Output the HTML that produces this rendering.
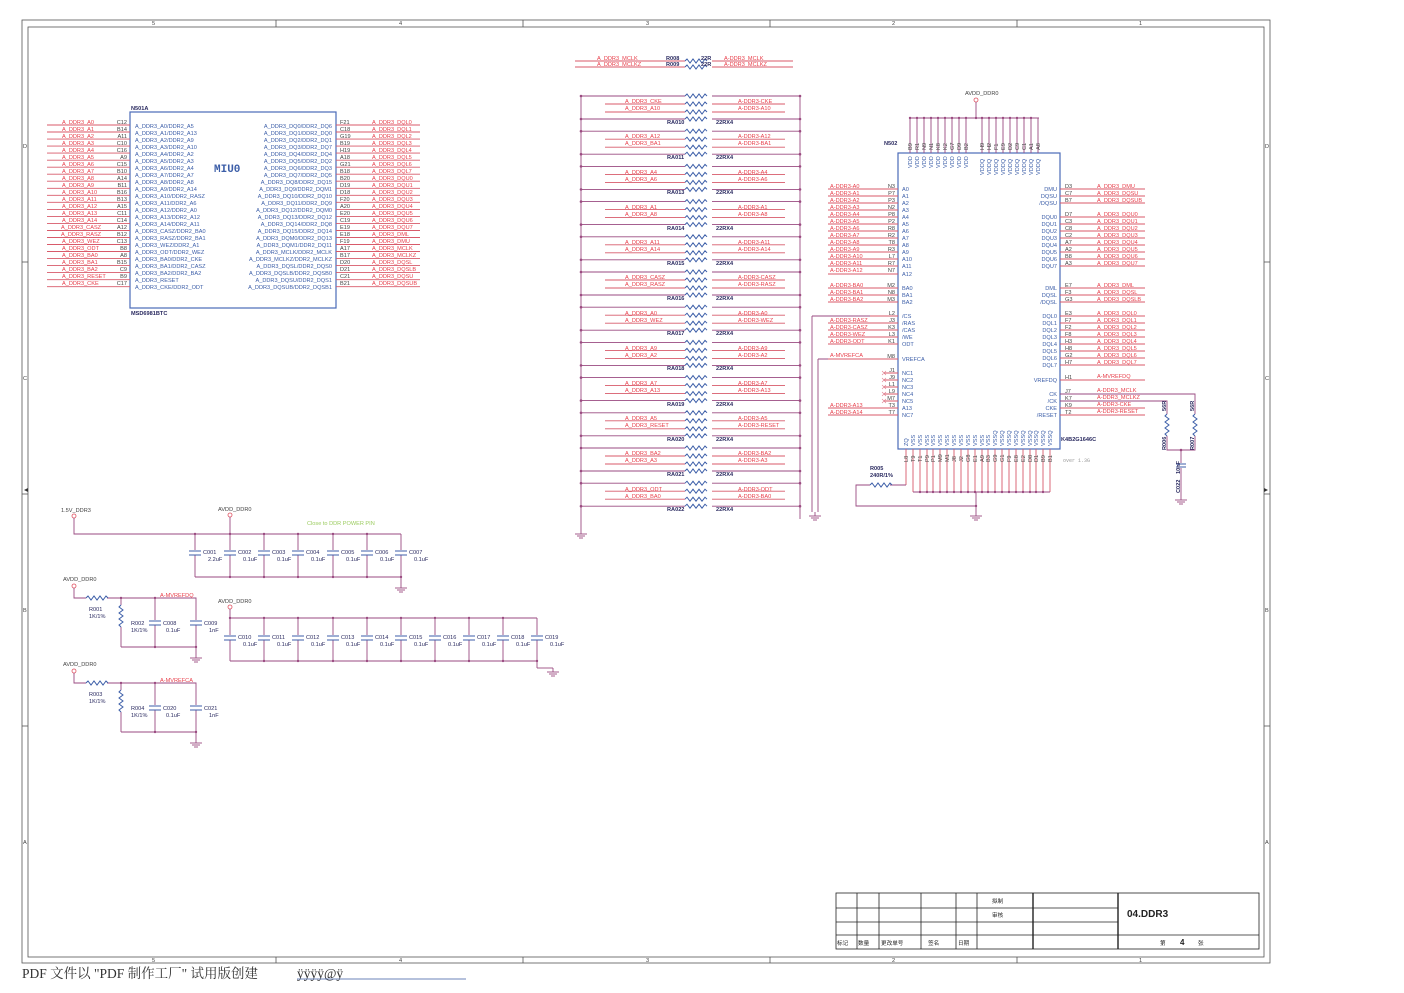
<!DOCTYPE html>
<html><head><meta charset="utf-8"><style>
html,body{margin:0;padding:0;background:#fff;}
svg{display:block;}
text{font-family:"Liberation Sans",sans-serif;font-size:5.6px;}
.r{fill:#e8404c;}
.b{fill:#3c5ea8;}
.k{fill:#2a2a60;}
.g{fill:#444;}
.w{stroke:#9a4a80;stroke-width:0.9;fill:none;}
.p{stroke:#d85a6a;stroke-width:0.9;fill:none;}
.c{stroke:#3c5ea8;stroke-width:1;fill:none;}
.f{stroke:#555;stroke-width:0.8;fill:none;}
.d{fill:#9a4a80;}
.bd{font-weight:bold;}
</style></head><body>
<svg width="1404" height="993" viewBox="0 0 1404 993" xmlns="http://www.w3.org/2000/svg">
<defs>
<path id="zz" d="M0 0 l2 -2 l3 4 l3 -4 l3 4 l3 -4 l3 4 l3 -4 l2 2" class="c"/>
<path id="zv" d="M0 0 l-2 2 l4 3 l-4 3 l4 3 l-4 3 l4 3 l-4 3 l2 2" class="c"/>
<g id="gnd"><line x1="0" y1="0" x2="0" y2="4" class="w"/><line x1="-6" y1="4" x2="6" y2="4" class="w"/><line x1="-4" y1="6" x2="4" y2="6" class="w"/><line x1="-2" y1="8" x2="2" y2="8" class="w"/></g>
<g id="cap"><line x1="-6" y1="0" x2="6" y2="0" class="c" stroke-width="1.4"/><line x1="-6" y1="4" x2="6" y2="4" class="c" stroke-width="1.4"/></g>
</defs>

<!-- frames -->
<rect x="22" y="20" width="1248" height="943" class="f"/>
<rect x="28" y="27" width="1236" height="930" class="f"/>
<g class="f"><line x1="276" y1="20" x2="276" y2="27"/><line x1="523" y1="20" x2="523" y2="27"/><line x1="770" y1="20" x2="770" y2="27"/><line x1="1017" y1="20" x2="1017" y2="27"/>
<line x1="276" y1="957" x2="276" y2="963"/><line x1="523" y1="957" x2="523" y2="963"/><line x1="770" y1="957" x2="770" y2="963"/><line x1="1017" y1="957" x2="1017" y2="963"/>
<line x1="22" y1="262" x2="28" y2="262"/><line x1="22" y1="494" x2="28" y2="494"/><line x1="22" y1="726" x2="28" y2="726"/>
<line x1="1264" y1="262" x2="1270" y2="262"/><line x1="1264" y1="494" x2="1270" y2="494"/><line x1="1264" y1="726" x2="1270" y2="726"/></g>
<g class="g" style="font-size:5px"><text x="152" y="25">5</text><text x="399" y="25">4</text><text x="646" y="25">3</text><text x="892" y="25">2</text><text x="1139" y="25">1</text>
<text x="152" y="962">5</text><text x="399" y="962">4</text><text x="646" y="962">3</text><text x="892" y="962">2</text><text x="1139" y="962">1</text>
<text x="23" y="148">D</text><text x="23" y="380">C</text><text x="23" y="612">B</text><text x="23" y="844">A</text>
<text x="1265" y="148">D</text><text x="1265" y="380">C</text><text x="1265" y="612">B</text><text x="1265" y="844">A</text></g>
<path d="M24 490 l4 -2 v4z M1268 490 l-4 -2 v4z" fill="#333"/>

<!-- LEFT CHIP N501A -->
<rect x="130" y="112" width="206" height="196" stroke="#4a6ab8" stroke-width="1.2" fill="none"/>
<text x="131" y="110" class="k bd">N501A</text>
<text x="131" y="315" class="k bd">MSD6981BTC</text>
<text x="214" y="172" class="b bd" style="font-size:11px;font-family:'Liberation Mono',monospace">MIU0</text>
<path class="p" d="M47 125H130M47 132H130M47 139.1H130M47 146.1H130M47 153.1H130M47 160.2H130M47 167.2H130M47 174.2H130M47 181.2H130M47 188.3H130M47 195.3H130M47 202.3H130M47 209.4H130M47 216.4H130M47 223.4H130M47 230.5H130M47 237.5H130M47 244.5H130M47 251.5H130M47 258.6H130M47 265.6H130M47 272.6H130M47 279.7H130M47 286.7H130
M336 125H420M336 132H420M336 139.1H420M336 146.1H420M336 153.1H420M336 160.2H420M336 167.2H420M336 174.2H420M336 181.2H420M336 188.3H420M336 195.3H420M336 202.3H420M336 209.4H420M336 216.4H420M336 223.4H420M336 230.5H420M336 237.5H420M336 244.5H420M336 251.5H420M336 258.6H420M336 265.6H420M336 272.6H420M336 279.7H420M336 286.7H420"/>
<text class="r"><tspan x="62" y="124">A_DDR3_A0</tspan><tspan x="62" y="131">A_DDR3_A1</tspan><tspan x="62" y="138">A_DDR3_A2</tspan><tspan x="62" y="145">A_DDR3_A3</tspan><tspan x="62" y="152">A_DDR3_A4</tspan><tspan x="62" y="159">A_DDR3_A5</tspan><tspan x="62" y="166">A_DDR3_A6</tspan><tspan x="62" y="173">A_DDR3_A7</tspan><tspan x="62" y="180">A_DDR3_A8</tspan><tspan x="62" y="187">A_DDR3_A9</tspan><tspan x="62" y="194">A_DDR3_A10</tspan><tspan x="62" y="201">A_DDR3_A11</tspan><tspan x="62" y="208">A_DDR3_A12</tspan><tspan x="62" y="215">A_DDR3_A13</tspan><tspan x="62" y="222">A_DDR3_A14</tspan><tspan x="61" y="229">A_DDR3_CASZ</tspan><tspan x="61" y="236">A_DDR3_RASZ</tspan><tspan x="62" y="243">A_DDR3_WEZ</tspan><tspan x="62" y="250">A_DDR3_ODT</tspan><tspan x="62" y="257">A_DDR3_BA0</tspan><tspan x="62" y="264">A_DDR3_BA1</tspan><tspan x="62" y="271">A_DDR3_BA2</tspan><tspan x="62" y="278">A_DDR3_RESET</tspan><tspan x="62" y="285">A_DDR3_CKE</tspan></text>
<text class="g" text-anchor="end"><tspan x="127" y="124">C12</tspan><tspan x="127" y="131">B14</tspan><tspan x="127" y="138">A11</tspan><tspan x="127" y="145">C10</tspan><tspan x="127" y="152">C16</tspan><tspan x="127" y="159">A9</tspan><tspan x="127" y="166">C15</tspan><tspan x="127" y="173">B10</tspan><tspan x="127" y="180">A14</tspan><tspan x="127" y="187">B11</tspan><tspan x="127" y="194">B16</tspan><tspan x="127" y="201">B13</tspan><tspan x="127" y="208">A15</tspan><tspan x="127" y="215">C11</tspan><tspan x="127" y="222">C14</tspan><tspan x="127" y="229">A12</tspan><tspan x="127" y="236">B12</tspan><tspan x="127" y="243">C13</tspan><tspan x="127" y="250">B8</tspan><tspan x="127" y="257">A8</tspan><tspan x="127" y="264">B15</tspan><tspan x="127" y="271">C9</tspan><tspan x="127" y="278">B9</tspan><tspan x="127" y="285">C17</tspan></text>
<text class="b"><tspan x="135" y="128">A_DDR3_A0/DDR2_A5</tspan><tspan x="135" y="135">A_DDR3_A1/DDR2_A13</tspan><tspan x="135" y="142">A_DDR3_A2/DDR2_A9</tspan><tspan x="135" y="149">A_DDR3_A3/DDR2_A10</tspan><tspan x="135" y="156">A_DDR3_A4/DDR2_A2</tspan><tspan x="135" y="163">A_DDR3_A5/DDR2_A3</tspan><tspan x="135" y="170">A_DDR3_A6/DDR2_A4</tspan><tspan x="135" y="177">A_DDR3_A7/DDR2_A7</tspan><tspan x="135" y="184">A_DDR3_A8/DDR2_A8</tspan><tspan x="135" y="191">A_DDR3_A9/DDR2_A14</tspan><tspan x="135" y="198">A_DDR3_A10/DDR2_RASZ</tspan><tspan x="135" y="205">A_DDR3_A11/DDR2_A6</tspan><tspan x="135" y="212">A_DDR3_A12/DDR2_A0</tspan><tspan x="135" y="219">A_DDR3_A13/DDR2_A12</tspan><tspan x="135" y="226">A_DDR3_A14/DDR2_A11</tspan><tspan x="135" y="233">A_DDR3_CASZ/DDR2_BA0</tspan><tspan x="135" y="240">A_DDR3_RASZ/DDR2_BA1</tspan><tspan x="135" y="247">A_DDR3_WEZ/DDR2_A1</tspan><tspan x="135" y="254">A_DDR3_ODT/DDR2_WEZ</tspan><tspan x="135" y="261">A_DDR3_BA0/DDR2_CKE</tspan><tspan x="135" y="268">A_DDR3_BA1/DDR2_CASZ</tspan><tspan x="135" y="275">A_DDR3_BA2/DDR2_BA2</tspan><tspan x="135" y="282">A_DDR3_RESET</tspan><tspan x="135" y="289">A_DDR3_CKE/DDR2_ODT</tspan></text>
<text class="b" text-anchor="end"><tspan x="332" y="128">A_DDR3_DQ0/DDR2_DQ6</tspan><tspan x="332" y="135">A_DDR3_DQ1/DDR2_DQ0</tspan><tspan x="332" y="142">A_DDR3_DQ2/DDR2_DQ1</tspan><tspan x="332" y="149">A_DDR3_DQ3/DDR2_DQ7</tspan><tspan x="332" y="156">A_DDR3_DQ4/DDR2_DQ4</tspan><tspan x="332" y="163">A_DDR3_DQ5/DDR2_DQ2</tspan><tspan x="332" y="170">A_DDR3_DQ6/DDR2_DQ3</tspan><tspan x="332" y="177">A_DDR3_DQ7/DDR2_DQ5</tspan><tspan x="332" y="184">A_DDR3_DQ8/DDR2_DQ15</tspan><tspan x="332" y="191">A_DDR3_DQ9/DDR2_DQM1</tspan><tspan x="332" y="198">A_DDR3_DQ10/DDR2_DQ10</tspan><tspan x="332" y="205">A_DDR3_DQ11/DDR2_DQ9</tspan><tspan x="332" y="212">A_DDR3_DQ12/DDR2_DQM0</tspan><tspan x="332" y="219">A_DDR3_DQ13/DDR2_DQ12</tspan><tspan x="332" y="226">A_DDR3_DQ14/DDR2_DQ8</tspan><tspan x="332" y="233">A_DDR3_DQ15/DDR2_DQ14</tspan><tspan x="332" y="240">A_DDR3_DQM0/DDR2_DQ13</tspan><tspan x="332" y="247">A_DDR3_DQM1/DDR2_DQ11</tspan><tspan x="332" y="254">A_DDR3_MCLK/DDR2_MCLK</tspan><tspan x="332" y="261">A_DDR3_MCLKZ/DDR2_MCLKZ</tspan><tspan x="332" y="268">A_DDR3_DQSL/DDR2_DQS0</tspan><tspan x="332" y="275">A_DDR3_DQSLB/DDR2_DQSB0</tspan><tspan x="332" y="282">A_DDR3_DQSU/DDR2_DQS1</tspan><tspan x="332" y="289">A_DDR3_DQSUB/DDR2_DQSB1</tspan></text>
<text class="g"><tspan x="340" y="124">F21</tspan><tspan x="340" y="131">C18</tspan><tspan x="340" y="138">G19</tspan><tspan x="340" y="145">B19</tspan><tspan x="340" y="152">H19</tspan><tspan x="340" y="159">A18</tspan><tspan x="340" y="166">G21</tspan><tspan x="340" y="173">B18</tspan><tspan x="340" y="180">B20</tspan><tspan x="340" y="187">D19</tspan><tspan x="340" y="194">D18</tspan><tspan x="340" y="201">F20</tspan><tspan x="340" y="208">A20</tspan><tspan x="340" y="215">E20</tspan><tspan x="340" y="222">C19</tspan><tspan x="340" y="229">E19</tspan><tspan x="340" y="236">E18</tspan><tspan x="340" y="243">F19</tspan><tspan x="340" y="250">A17</tspan><tspan x="340" y="257">B17</tspan><tspan x="340" y="264">D20</tspan><tspan x="340" y="271">D21</tspan><tspan x="340" y="278">C21</tspan><tspan x="340" y="285">B21</tspan></text>
<text class="r"><tspan x="372" y="124">A_DDR3_DQL0</tspan><tspan x="372" y="131">A_DDR3_DQL1</tspan><tspan x="372" y="138">A_DDR3_DQL2</tspan><tspan x="372" y="145">A_DDR3_DQL3</tspan><tspan x="372" y="152">A_DDR3_DQL4</tspan><tspan x="372" y="159">A_DDR3_DQL5</tspan><tspan x="372" y="166">A_DDR3_DQL6</tspan><tspan x="372" y="173">A_DDR3_DQL7</tspan><tspan x="372" y="180">A_DDR3_DQU0</tspan><tspan x="372" y="187">A_DDR3_DQU1</tspan><tspan x="372" y="194">A_DDR3_DQU2</tspan><tspan x="372" y="201">A_DDR3_DQU3</tspan><tspan x="372" y="208">A_DDR3_DQU4</tspan><tspan x="372" y="215">A_DDR3_DQU5</tspan><tspan x="372" y="222">A_DDR3_DQU6</tspan><tspan x="372" y="229">A_DDR3_DQU7</tspan><tspan x="372" y="236">A_DDR3_DML</tspan><tspan x="372" y="243">A_DDR3_DMU</tspan><tspan x="372" y="250">A_DDR3_MCLK</tspan><tspan x="372" y="257">A_DDR3_MCLKZ</tspan><tspan x="372" y="264">A_DDR3_DQSL</tspan><tspan x="372" y="271">A_DDR3_DQSLB</tspan><tspan x="372" y="278">A_DDR3_DQSU</tspan><tspan x="372" y="285">A_DDR3_DQSUB</tspan></text>

<!-- R008/R009 -->
<path class="p" d="M575 61H685M712 61H793M575 67H685M712 67H793"/>
<use href="#zz" x="685" y="61"/><use href="#zz" x="685" y="67"/>
<text class="r"><tspan x="597" y="60">A_DDR3_MCLK</tspan><tspan x="597" y="66">A_DDR3_MCLKZ</tspan><tspan x="724" y="60">A-DDR3_MCLK</tspan><tspan x="724" y="66">A-DDR3_MCLKZ</tspan></text>
<text class="k bd"><tspan x="666" y="60">R008</tspan><tspan x="666" y="66">R009</tspan><tspan x="701" y="60">22R</tspan><tspan x="701" y="66">22R</tspan></text>

<!-- RESISTOR ARRAYS -->
<line x1="581" y1="96" x2="581" y2="530" class="w"/>
<line x1="800" y1="96" x2="800" y2="519" class="w"/>
<use href="#gnd" x="581" y="530"/>
<g id="ra">
<path class="w" d="M581 96H685M712 96H800M581 119H685M712 119H800"/>
<path class="p" d="M605 104H685M712 104H785M605 112H685M712 112H785"/>
<use href="#zz" x="685" y="96"/><use href="#zz" x="685" y="104"/><use href="#zz" x="685" y="112"/><use href="#zz" x="685" y="119"/>
<circle cx="581" cy="96" r="1.3" class="d"/><circle cx="800" cy="96" r="1.3" class="d"/><circle cx="581" cy="119" r="1.3" class="d"/><circle cx="800" cy="119" r="1.3" class="d"/>
</g>
<use href="#ra" y="35.2"/><use href="#ra" y="70.4"/><use href="#ra" y="105.6"/><use href="#ra" y="140.8"/><use href="#ra" y="176"/><use href="#ra" y="211.2"/><use href="#ra" y="246.4"/><use href="#ra" y="281.6"/><use href="#ra" y="316.8"/><use href="#ra" y="352"/><use href="#ra" y="387.2"/>
<text class="r"><tspan x="625" y="103">A_DDR3_CKE</tspan><tspan x="625" y="110">A_DDR3_A10</tspan><tspan x="625" y="138">A_DDR3_A12</tspan><tspan x="625" y="145">A_DDR3_BA1</tspan><tspan x="625" y="174">A_DDR3_A4</tspan><tspan x="625" y="181">A_DDR3_A6</tspan><tspan x="625" y="209">A_DDR3_A1</tspan><tspan x="625" y="216">A_DDR3_A8</tspan><tspan x="625" y="244">A_DDR3_A11</tspan><tspan x="625" y="251">A_DDR3_A14</tspan><tspan x="625" y="279">A_DDR3_CASZ</tspan><tspan x="625" y="286">A_DDR3_RASZ</tspan><tspan x="625" y="315">A_DDR3_A0</tspan><tspan x="625" y="322">A_DDR3_WEZ</tspan><tspan x="625" y="350">A_DDR3_A9</tspan><tspan x="625" y="357">A_DDR3_A2</tspan><tspan x="625" y="385">A_DDR3_A7</tspan><tspan x="625" y="392">A_DDR3_A13</tspan><tspan x="625" y="420">A_DDR3_A5</tspan><tspan x="625" y="427">A_DDR3_RESET</tspan><tspan x="625" y="455">A_DDR3_BA2</tspan><tspan x="625" y="462">A_DDR3_A3</tspan><tspan x="625" y="491">A_DDR3_ODT</tspan><tspan x="625" y="498">A_DDR3_BA0</tspan></text>
<text class="r"><tspan x="738" y="103">A-DDR3-CKE</tspan><tspan x="738" y="110">A-DDR3-A10</tspan><tspan x="738" y="138">A-DDR3-A12</tspan><tspan x="738" y="145">A-DDR3-BA1</tspan><tspan x="738" y="174">A-DDR3-A4</tspan><tspan x="738" y="181">A-DDR3-A6</tspan><tspan x="738" y="209">A-DDR3-A1</tspan><tspan x="738" y="216">A-DDR3-A8</tspan><tspan x="738" y="244">A-DDR3-A11</tspan><tspan x="738" y="251">A-DDR3-A14</tspan><tspan x="738" y="279">A-DDR3-CASZ</tspan><tspan x="738" y="286">A-DDR3-RASZ</tspan><tspan x="738" y="315">A-DDR3-A0</tspan><tspan x="738" y="322">A-DDR3-WEZ</tspan><tspan x="738" y="350">A-DDR3-A9</tspan><tspan x="738" y="357">A-DDR3-A2</tspan><tspan x="738" y="385">A-DDR3-A7</tspan><tspan x="738" y="392">A-DDR3-A13</tspan><tspan x="738" y="420">A-DDR3-A5</tspan><tspan x="738" y="427">A-DDR3-RESET</tspan><tspan x="738" y="455">A-DDR3-BA2</tspan><tspan x="738" y="462">A-DDR3-A3</tspan><tspan x="738" y="491">A-DDR3-ODT</tspan><tspan x="738" y="498">A-DDR3-BA0</tspan></text>
<text class="k bd"><tspan x="667" y="124">RA010</tspan><tspan x="667" y="159">RA011</tspan><tspan x="667" y="194">RA013</tspan><tspan x="667" y="230">RA014</tspan><tspan x="667" y="265">RA015</tspan><tspan x="667" y="300">RA016</tspan><tspan x="667" y="335">RA017</tspan><tspan x="667" y="370">RA018</tspan><tspan x="667" y="406">RA019</tspan><tspan x="667" y="441">RA020</tspan><tspan x="667" y="476">RA021</tspan><tspan x="667" y="511">RA022</tspan>
<tspan x="716" y="124">22RX4</tspan><tspan x="716" y="159">22RX4</tspan><tspan x="716" y="194">22RX4</tspan><tspan x="716" y="230">22RX4</tspan><tspan x="716" y="265">22RX4</tspan><tspan x="716" y="300">22RX4</tspan><tspan x="716" y="335">22RX4</tspan><tspan x="716" y="370">22RX4</tspan><tspan x="716" y="406">22RX4</tspan><tspan x="716" y="441">22RX4</tspan><tspan x="716" y="476">22RX4</tspan><tspan x="716" y="511">22RX4</tspan></text>
<path class="w" d="M812 316H898M812 316V512M818 359V512M818 359H828"/>
<use href="#gnd" x="815" y="512"/>

<!-- RIGHT CHIP N502 -->
<rect x="898" y="153" width="162" height="296" stroke="#4a6ab8" stroke-width="1.2" fill="none"/>
<text x="884" y="145" class="k bd">N502</text>
<text x="965" y="95" class="g">AVDD_DDR0</text>
<circle cx="976" cy="100" r="2" fill="none" stroke="#e05060" stroke-width="0.8"/>
<path class="w" d="M976 102V118M910 118H1039M910 118V153M917 118V153M924 118V153M931 118V153M938 118V153M945 118V153M952 118V153M959 118V153M966 118V153M982 118V153M989 118V153M996 118V153M1003 118V153M1010 118V153M1017 118V153M1024 118V153M1031 118V153M1038 118V153"/>
<g class="d"><circle cx="910" cy="118" r="1.2"/><circle cx="917" cy="118" r="1.2"/><circle cx="924" cy="118" r="1.2"/><circle cx="931" cy="118" r="1.2"/><circle cx="938" cy="118" r="1.2"/><circle cx="945" cy="118" r="1.2"/><circle cx="952" cy="118" r="1.2"/><circle cx="959" cy="118" r="1.2"/><circle cx="966" cy="118" r="1.2"/><circle cx="976" cy="118" r="1.2"/><circle cx="982" cy="118" r="1.2"/><circle cx="989" cy="118" r="1.2"/><circle cx="996" cy="118" r="1.2"/><circle cx="1003" cy="118" r="1.2"/><circle cx="1010" cy="118" r="1.2"/><circle cx="1017" cy="118" r="1.2"/><circle cx="1024" cy="118" r="1.2"/><circle cx="1031" cy="118" r="1.2"/></g>
<g class="g" style="font-size:5.2px">
<text transform="translate(912,150) rotate(-90)">B9</text><text transform="translate(919,150) rotate(-90)">R1</text><text transform="translate(926,150) rotate(-90)">N9</text><text transform="translate(933,150) rotate(-90)">N1</text><text transform="translate(940,150) rotate(-90)">K8</text><text transform="translate(947,150) rotate(-90)">K2</text><text transform="translate(954,150) rotate(-90)">G7</text><text transform="translate(961,150) rotate(-90)">D9</text><text transform="translate(968,150) rotate(-90)">B2</text>
<text transform="translate(984,150) rotate(-90)">H9</text><text transform="translate(991,150) rotate(-90)">H2</text><text transform="translate(998,150) rotate(-90)">F1</text><text transform="translate(1005,150) rotate(-90)">E9</text><text transform="translate(1012,150) rotate(-90)">D2</text><text transform="translate(1019,150) rotate(-90)">C9</text><text transform="translate(1026,150) rotate(-90)">C1</text><text transform="translate(1033,150) rotate(-90)">A1</text><text transform="translate(1040,150) rotate(-90)">A8</text></g>
<g class="b" style="font-size:5.2px">
<text transform="translate(912,168) rotate(-90)">VDD</text><text transform="translate(919,168) rotate(-90)">VDD</text><text transform="translate(926,168) rotate(-90)">VDD</text><text transform="translate(933,168) rotate(-90)">VDD</text><text transform="translate(940,168) rotate(-90)">VDD</text><text transform="translate(947,168) rotate(-90)">VDD</text><text transform="translate(954,168) rotate(-90)">VDD</text><text transform="translate(961,168) rotate(-90)">VDD</text><text transform="translate(968,168) rotate(-90)">VDD</text>
<text transform="translate(984,175) rotate(-90)">VDDQ</text><text transform="translate(991,175) rotate(-90)">VDDQ</text><text transform="translate(998,175) rotate(-90)">VDDQ</text><text transform="translate(1005,175) rotate(-90)">VDDQ</text><text transform="translate(1012,175) rotate(-90)">VDDQ</text><text transform="translate(1019,175) rotate(-90)">VDDQ</text><text transform="translate(1026,175) rotate(-90)">VDDQ</text><text transform="translate(1033,175) rotate(-90)">VDDQ</text><text transform="translate(1040,175) rotate(-90)">VDDQ</text></g>
<path class="p" d="M828 189H898M828 196H898M828 203H898M828 210H898M828 217H898M828 224H898M828 231H898M828 238H898M828 245H898M828 252H898M828 259H898M828 266H898M828 274H898M828 288H898M828 295H898M828 302H898M870 316H898M828 323H898M828 330H898M828 337H898M828 344H898M828 359H898M884 373H898M884 380H898M884 387H898M884 394H898M884 401H898M828 408H898M828 415H898
M1060 189H1145M1060 196H1145M1060 203H1145M1060 217H1145M1060 224H1145M1060 231H1145M1060 238H1145M1060 245H1145M1060 252H1145M1060 259H1145M1060 266H1145M1060 288H1145M1060 295H1145M1060 302H1145M1060 316H1145M1060 323H1145M1060 330H1145M1060 337H1145M1060 344H1145M1060 351H1145M1060 358H1145M1060 365H1145M1060 380H1145M1060 408H1145M1060 415H1145"/>
<g stroke="#e08090" stroke-width="0.6"><path d="M882 371l4 4M886 371l-4 4M882 378l4 4M886 378l-4 4M882 385l4 4M886 385l-4 4M882 392l4 4M886 392l-4 4M882 399l4 4M886 399l-4 4"/></g>
<text class="r"><tspan x="830" y="188">A-DDR3-A0</tspan><tspan x="830" y="195">A-DDR3-A1</tspan><tspan x="830" y="202">A-DDR3-A2</tspan><tspan x="830" y="209">A-DDR3-A3</tspan><tspan x="830" y="216">A-DDR3-A4</tspan><tspan x="830" y="223">A-DDR3-A5</tspan><tspan x="830" y="230">A-DDR3-A6</tspan><tspan x="830" y="237">A-DDR3-A7</tspan><tspan x="830" y="244">A-DDR3-A8</tspan><tspan x="830" y="251">A-DDR3-A9</tspan><tspan x="830" y="258">A-DDR3-A10</tspan><tspan x="830" y="265">A-DDR3-A11</tspan><tspan x="830" y="272">A-DDR3-A12</tspan><tspan x="830" y="287">A-DDR3-BA0</tspan><tspan x="830" y="294">A-DDR3-BA1</tspan><tspan x="830" y="301">A-DDR3-BA2</tspan><tspan x="830" y="322">A-DDR3-RASZ</tspan><tspan x="830" y="329">A-DDR3-CASZ</tspan><tspan x="830" y="336">A-DDR3-WEZ</tspan><tspan x="830" y="343">A-DDR3-ODT</tspan><tspan x="830" y="357">A-MVREFCA</tspan><tspan x="830" y="407">A-DDR3-A13</tspan><tspan x="830" y="414">A-DDR3-A14</tspan></text>
<text class="g" text-anchor="end"><tspan x="895" y="188">N3</tspan><tspan x="895" y="195">P7</tspan><tspan x="895" y="202">P3</tspan><tspan x="895" y="209">N2</tspan><tspan x="895" y="216">P8</tspan><tspan x="895" y="223">P2</tspan><tspan x="895" y="230">R8</tspan><tspan x="895" y="237">R2</tspan><tspan x="895" y="244">T8</tspan><tspan x="895" y="251">R3</tspan><tspan x="895" y="258">L7</tspan><tspan x="895" y="265">R7</tspan><tspan x="895" y="272">N7</tspan><tspan x="895" y="287">M2</tspan><tspan x="895" y="294">N8</tspan><tspan x="895" y="301">M3</tspan><tspan x="895" y="315">L2</tspan><tspan x="895" y="322">J3</tspan><tspan x="895" y="329">K3</tspan><tspan x="895" y="336">L3</tspan><tspan x="895" y="343">K1</tspan><tspan x="895" y="358">M8</tspan><tspan x="895" y="372">J1</tspan><tspan x="895" y="379">J9</tspan><tspan x="895" y="386">L1</tspan><tspan x="895" y="393">L9</tspan><tspan x="895" y="400">M7</tspan><tspan x="895" y="407">T3</tspan><tspan x="895" y="414">T7</tspan></text>
<text class="b"><tspan x="902" y="191">A0</tspan><tspan x="902" y="198">A1</tspan><tspan x="902" y="205">A2</tspan><tspan x="902" y="212">A3</tspan><tspan x="902" y="219">A4</tspan><tspan x="902" y="226">A5</tspan><tspan x="902" y="233">A6</tspan><tspan x="902" y="240">A7</tspan><tspan x="902" y="247">A8</tspan><tspan x="902" y="254">A9</tspan><tspan x="902" y="261">A10</tspan><tspan x="902" y="268">A11</tspan><tspan x="902" y="276">A12</tspan><tspan x="902" y="290">BA0</tspan><tspan x="902" y="297">BA1</tspan><tspan x="902" y="304">BA2</tspan><tspan x="902" y="318">/CS</tspan><tspan x="902" y="325">/RAS</tspan><tspan x="902" y="332">/CAS</tspan><tspan x="902" y="339">/WE</tspan><tspan x="902" y="346">ODT</tspan><tspan x="902" y="361">VREFCA</tspan><tspan x="902" y="375">NC1</tspan><tspan x="902" y="382">NC2</tspan><tspan x="902" y="389">NC3</tspan><tspan x="902" y="396">NC4</tspan><tspan x="902" y="403">NC5</tspan><tspan x="902" y="410">A13</tspan><tspan x="902" y="417">NC7</tspan></text>
<text class="b" text-anchor="end"><tspan x="1057" y="191">DMU</tspan><tspan x="1057" y="198">DQSU</tspan><tspan x="1057" y="205">/DQSU</tspan><tspan x="1057" y="219">DQU0</tspan><tspan x="1057" y="226">DQU1</tspan><tspan x="1057" y="233">DQU2</tspan><tspan x="1057" y="240">DQU3</tspan><tspan x="1057" y="247">DQU4</tspan><tspan x="1057" y="254">DQU5</tspan><tspan x="1057" y="261">DQU6</tspan><tspan x="1057" y="268">DQU7</tspan><tspan x="1057" y="290">DML</tspan><tspan x="1057" y="297">DQSL</tspan><tspan x="1057" y="304">/DQSL</tspan><tspan x="1057" y="318">DQL0</tspan><tspan x="1057" y="325">DQL1</tspan><tspan x="1057" y="332">DQL2</tspan><tspan x="1057" y="339">DQL3</tspan><tspan x="1057" y="346">DQL4</tspan><tspan x="1057" y="353">DQL5</tspan><tspan x="1057" y="360">DQL6</tspan><tspan x="1057" y="367">DQL7</tspan><tspan x="1057" y="382">VREFDQ</tspan><tspan x="1057" y="396">CK</tspan><tspan x="1057" y="403">/CK</tspan><tspan x="1057" y="410">CKE</tspan><tspan x="1057" y="417">/RESET</tspan></text>
<text class="g"><tspan x="1065" y="188">D3</tspan><tspan x="1065" y="195">C7</tspan><tspan x="1065" y="202">B7</tspan><tspan x="1065" y="216">D7</tspan><tspan x="1065" y="223">C3</tspan><tspan x="1065" y="230">C8</tspan><tspan x="1065" y="237">C2</tspan><tspan x="1065" y="244">A7</tspan><tspan x="1065" y="251">A2</tspan><tspan x="1065" y="258">B8</tspan><tspan x="1065" y="265">A3</tspan><tspan x="1065" y="287">E7</tspan><tspan x="1065" y="294">F3</tspan><tspan x="1065" y="301">G3</tspan><tspan x="1065" y="315">E3</tspan><tspan x="1065" y="322">F7</tspan><tspan x="1065" y="329">F2</tspan><tspan x="1065" y="336">F8</tspan><tspan x="1065" y="343">H3</tspan><tspan x="1065" y="350">H8</tspan><tspan x="1065" y="357">G2</tspan><tspan x="1065" y="364">H7</tspan><tspan x="1065" y="379">H1</tspan><tspan x="1065" y="393">J7</tspan><tspan x="1065" y="400">K7</tspan><tspan x="1065" y="407">K9</tspan><tspan x="1065" y="414">T2</tspan></text>
<text class="r"><tspan x="1097" y="188">A_DDR3_DMU</tspan><tspan x="1097" y="195">A_DDR3_DQSU</tspan><tspan x="1097" y="202">A_DDR3_DQSUB</tspan><tspan x="1097" y="216">A_DDR3_DQU0</tspan><tspan x="1097" y="223">A_DDR3_DQU1</tspan><tspan x="1097" y="230">A_DDR3_DQU2</tspan><tspan x="1097" y="237">A_DDR3_DQU3</tspan><tspan x="1097" y="244">A_DDR3_DQU4</tspan><tspan x="1097" y="251">A_DDR3_DQU5</tspan><tspan x="1097" y="258">A_DDR3_DQU6</tspan><tspan x="1097" y="265">A_DDR3_DQU7</tspan><tspan x="1097" y="287">A_DDR3_DML</tspan><tspan x="1097" y="294">A_DDR3_DQSL</tspan><tspan x="1097" y="301">A_DDR3_DQSLB</tspan><tspan x="1097" y="315">A_DDR3_DQL0</tspan><tspan x="1097" y="322">A_DDR3_DQL1</tspan><tspan x="1097" y="329">A_DDR3_DQL2</tspan><tspan x="1097" y="336">A_DDR3_DQL3</tspan><tspan x="1097" y="343">A_DDR3_DQL4</tspan><tspan x="1097" y="350">A_DDR3_DQL5</tspan><tspan x="1097" y="357">A_DDR3_DQL6</tspan><tspan x="1097" y="364">A_DDR3_DQL7</tspan><tspan x="1097" y="378">A-MVREFDQ</tspan><tspan x="1097" y="392">A-DDR3_MCLK</tspan><tspan x="1097" y="399">A-DDR3_MCLKZ</tspan><tspan x="1097" y="406">A-DDR3-CKE</tspan><tspan x="1097" y="413">A-DDR3-RESET</tspan></text>
<!-- CK termination -->
<path class="w" d="M1060 394H1195V414M1060 401H1167V414M1167 436V450H1195V436M1181 450V463M1181 468V496"/>
<use href="#zv" x="1167" y="414"/><use href="#zv" x="1195" y="414"/>
<line x1="1176" y1="464" x2="1186" y2="464" class="c" stroke-width="1.3"/><line x1="1176" y1="467" x2="1186" y2="467" class="c" stroke-width="1.3"/>
<circle cx="1181" cy="450" r="1.3" class="d"/>
<use href="#gnd" x="1181" y="496"/>
<g class="k bd"><text transform="translate(1166,450) rotate(-90)">R006</text><text transform="translate(1194,450) rotate(-90)">R007</text><text transform="translate(1166,411) rotate(-90)">56R</text><text transform="translate(1194,411) rotate(-90)">56R</text><text transform="translate(1180,493) rotate(-90)">C022</text><text transform="translate(1180,474) rotate(-90)">10nF</text></g>
<!-- bottom VSS -->
<text x="1061" y="441" class="k bd">K4B2G1646C</text>
<text x="1063" y="462" fill="#999" style="font-family:'Liberation Mono',monospace;font-size:5px">over 1.3G</text>
<path class="p" d="M906 449V485M913 449V492M920 449V492M927 449V492M933 449V492M940 449V492M947 449V492M954 449V492M961 449V492M968 449V492M975 449V492M982 449V492M988 449V492M995 449V492M1002 449V492M1009 449V492M1016 449V492M1023 449V492M1030 449V492M1036 449V492M1043 449V492M1050 449V492"/>
<path class="w" d="M913 492H1050M976 492V506M906 485H890M870 485H856V506H976V512"/>
<use href="#zz" x="870" y="485"/>
<use href="#gnd" x="976" y="512"/>
<g class="d"><circle cx="920" cy="492" r="1.2"/><circle cx="927" cy="492" r="1.2"/><circle cx="933" cy="492" r="1.2"/><circle cx="940" cy="492" r="1.2"/><circle cx="947" cy="492" r="1.2"/><circle cx="954" cy="492" r="1.2"/><circle cx="961" cy="492" r="1.2"/><circle cx="968" cy="492" r="1.2"/><circle cx="975" cy="492" r="1.2"/><circle cx="982" cy="492" r="1.2"/><circle cx="988" cy="492" r="1.2"/><circle cx="995" cy="492" r="1.2"/><circle cx="1002" cy="492" r="1.2"/><circle cx="1009" cy="492" r="1.2"/><circle cx="1016" cy="492" r="1.2"/><circle cx="1023" cy="492" r="1.2"/><circle cx="1030" cy="492" r="1.2"/><circle cx="1036" cy="492" r="1.2"/><circle cx="1043" cy="492" r="1.2"/><circle cx="976" cy="506" r="1.2"/></g>
<text x="870" y="470" class="k bd">R005</text><text x="870" y="477" class="k bd">240R/1%</text>
<g class="b" style="font-size:5.2px">
<text transform="translate(908,446) rotate(-90)">ZQ</text><text transform="translate(915,446) rotate(-90)">VSS</text><text transform="translate(922,446) rotate(-90)">VSS</text><text transform="translate(929,446) rotate(-90)">VSS</text><text transform="translate(935,446) rotate(-90)">VSS</text><text transform="translate(942,446) rotate(-90)">VSS</text><text transform="translate(949,446) rotate(-90)">VSS</text><text transform="translate(956,446) rotate(-90)">VSS</text><text transform="translate(963,446) rotate(-90)">VSS</text><text transform="translate(970,446) rotate(-90)">VSS</text><text transform="translate(977,446) rotate(-90)">VSS</text><text transform="translate(984,446) rotate(-90)">VSS</text><text transform="translate(990,446) rotate(-90)">VSS</text>
<text transform="translate(997,446) rotate(-90)">VSSQ</text><text transform="translate(1004,446) rotate(-90)">VSSQ</text><text transform="translate(1011,446) rotate(-90)">VSSQ</text><text transform="translate(1018,446) rotate(-90)">VSSQ</text><text transform="translate(1025,446) rotate(-90)">VSSQ</text><text transform="translate(1032,446) rotate(-90)">VSSQ</text><text transform="translate(1038,446) rotate(-90)">VSSQ</text><text transform="translate(1045,446) rotate(-90)">VSSQ</text><text transform="translate(1052,446) rotate(-90)">VSSQ</text></g>
<g class="g" style="font-size:5.2px">
<text transform="translate(908,462) rotate(-90)">L8</text><text transform="translate(915,462) rotate(-90)">T9</text><text transform="translate(922,462) rotate(-90)">T1</text><text transform="translate(929,462) rotate(-90)">P9</text><text transform="translate(935,462) rotate(-90)">P1</text><text transform="translate(942,462) rotate(-90)">M9</text><text transform="translate(949,462) rotate(-90)">M1</text><text transform="translate(956,462) rotate(-90)">J8</text><text transform="translate(963,462) rotate(-90)">J2</text><text transform="translate(970,462) rotate(-90)">G8</text><text transform="translate(977,462) rotate(-90)">E1</text><text transform="translate(984,462) rotate(-90)">A9</text><text transform="translate(990,462) rotate(-90)">B3</text><text transform="translate(997,462) rotate(-90)">G9</text><text transform="translate(1004,462) rotate(-90)">G1</text><text transform="translate(1011,462) rotate(-90)">F9</text><text transform="translate(1018,462) rotate(-90)">E8</text><text transform="translate(1025,462) rotate(-90)">E2</text><text transform="translate(1032,462) rotate(-90)">D8</text><text transform="translate(1038,462) rotate(-90)">D1</text><text transform="translate(1045,462) rotate(-90)">B9</text><text transform="translate(1052,462) rotate(-90)">B1</text></g>

<!-- BOTTOM-LEFT CAPS -->
<text x="61" y="512" class="g">1.5V_DDR3</text><circle cx="74" cy="516" r="2" fill="none" stroke="#e05060" stroke-width="0.8"/>
<text x="218" y="511" class="g">AVDD_DDR0</text><circle cx="230" cy="515" r="2" fill="none" stroke="#e05060" stroke-width="0.8"/>
<text x="307" y="525" fill="#9ccc60">Close to DDR POWER PIN</text>
<path class="w" d="M74 518V534H401M230 517V534M195 534V550M195 555V577M230 534V550M230 555V577M264 534V550M264 555V577M298 534V550M298 555V577M333 534V550M333 555V577M367 534V550M367 555V577M401 534V550M401 555V577M195 577H401V584"/>
<use href="#cap" x="195" y="551"/><use href="#cap" x="230" y="551"/><use href="#cap" x="264" y="551"/><use href="#cap" x="298" y="551"/><use href="#cap" x="333" y="551"/><use href="#cap" x="367" y="551"/><use href="#cap" x="401" y="551"/>
<use href="#gnd" x="401" y="584"/>
<g class="d"><circle cx="195" cy="534" r="1.2"/><circle cx="230" cy="534" r="1.2"/><circle cx="264" cy="534" r="1.2"/><circle cx="298" cy="534" r="1.2"/><circle cx="333" cy="534" r="1.2"/><circle cx="367" cy="534" r="1.2"/><circle cx="230" cy="577" r="1.2"/><circle cx="264" cy="577" r="1.2"/><circle cx="298" cy="577" r="1.2"/><circle cx="333" cy="577" r="1.2"/><circle cx="367" cy="577" r="1.2"/><circle cx="401" cy="577" r="1.2"/></g>
<text class="k"><tspan x="203" y="554">C001</tspan><tspan x="208" y="561">2.2uF</tspan><tspan x="238" y="554">C002</tspan><tspan x="243" y="561">0.1uF</tspan><tspan x="272" y="554">C003</tspan><tspan x="277" y="561">0.1uF</tspan><tspan x="306" y="554">C004</tspan><tspan x="311" y="561">0.1uF</tspan><tspan x="341" y="554">C005</tspan><tspan x="346" y="561">0.1uF</tspan><tspan x="375" y="554">C006</tspan><tspan x="380" y="561">0.1uF</tspan><tspan x="409" y="554">C007</tspan><tspan x="414" y="561">0.1uF</tspan></text>

<g id="vref">
<text x="63" y="581" class="g">AVDD_DDR0</text><circle cx="74" cy="586" r="2" fill="none" stroke="#e05060" stroke-width="0.8"/>
<path class="w" d="M74 588V598H86M107 598H196V620M196 625V647H121M121 598V605M121 627V647M155 598V620M155 625V647M196 647V654"/>
<use href="#zz" x="86" y="598"/>
<path d="M121 605 l-2 2 l4 3 l-4 3 l4 3 l-4 3 l4 3 l-4 3 l2 2" class="c"/>
<use href="#cap" x="155" y="621"/><use href="#cap" x="196" y="621"/>
<use href="#gnd" x="196" y="654"/>
<g class="d"><circle cx="121" cy="598" r="1.2"/><circle cx="155" cy="598" r="1.2"/><circle cx="155" cy="647" r="1.2"/><circle cx="196" cy="647" r="1.2"/></g>
</g>
<use href="#vref" y="85"/>
<text class="r"><tspan x="160" y="597">A-MVREFDQ</tspan><tspan x="160" y="682">A-MVREFCA</tspan></text>
<text class="k"><tspan x="89" y="611">R001</tspan><tspan x="89" y="618">1K/1%</tspan><tspan x="131" y="625">R002</tspan><tspan x="131" y="632">1K/1%</tspan><tspan x="163" y="625">C008</tspan><tspan x="166" y="632">0.1uF</tspan><tspan x="204" y="625">C009</tspan><tspan x="209" y="632">1nF</tspan>
<tspan x="89" y="696">R003</tspan><tspan x="89" y="703">1K/1%</tspan><tspan x="131" y="710">R004</tspan><tspan x="131" y="717">1K/1%</tspan><tspan x="163" y="710">C020</tspan><tspan x="166" y="717">0.1uF</tspan><tspan x="204" y="710">C021</tspan><tspan x="209" y="717">1nF</tspan></text>

<text x="218" y="603" class="g">AVDD_DDR0</text><circle cx="230" cy="607" r="2" fill="none" stroke="#e05060" stroke-width="0.8"/>
<path class="w" d="M230 609V618H537M230 618V635M230 640V661M264 618V635M264 640V661M298 618V635M298 640V661M333 618V635M333 640V661M367 618V635M367 640V661M401 618V635M401 640V661M435 618V635M435 640V661M469 618V635M469 640V661M503 618V635M503 640V661M537 618V635M537 640V661M230 661H537V668"/>
<use href="#cap" x="230" y="636"/><use href="#cap" x="264" y="636"/><use href="#cap" x="298" y="636"/><use href="#cap" x="333" y="636"/><use href="#cap" x="367" y="636"/><use href="#cap" x="401" y="636"/><use href="#cap" x="435" y="636"/><use href="#cap" x="469" y="636"/><use href="#cap" x="503" y="636"/><use href="#cap" x="537" y="636"/>
<use href="#gnd" x="553" y="668"/>
<path class="w" d="M537 668H553"/>
<g class="d"><circle cx="230" cy="618" r="1.2"/><circle cx="264" cy="618" r="1.2"/><circle cx="298" cy="618" r="1.2"/><circle cx="333" cy="618" r="1.2"/><circle cx="367" cy="618" r="1.2"/><circle cx="401" cy="618" r="1.2"/><circle cx="435" cy="618" r="1.2"/><circle cx="469" cy="618" r="1.2"/><circle cx="503" cy="618" r="1.2"/><circle cx="264" cy="661" r="1.2"/><circle cx="298" cy="661" r="1.2"/><circle cx="333" cy="661" r="1.2"/><circle cx="367" cy="661" r="1.2"/><circle cx="401" cy="661" r="1.2"/><circle cx="435" cy="661" r="1.2"/><circle cx="469" cy="661" r="1.2"/><circle cx="503" cy="661" r="1.2"/><circle cx="537" cy="661" r="1.2"/></g>
<text class="k"><tspan x="238" y="639">C010</tspan><tspan x="243" y="646">0.1uF</tspan><tspan x="272" y="639">C011</tspan><tspan x="277" y="646">0.1uF</tspan><tspan x="306" y="639">C012</tspan><tspan x="311" y="646">0.1uF</tspan><tspan x="341" y="639">C013</tspan><tspan x="346" y="646">0.1uF</tspan><tspan x="375" y="639">C014</tspan><tspan x="380" y="646">0.1uF</tspan><tspan x="409" y="639">C015</tspan><tspan x="414" y="646">0.1uF</tspan><tspan x="443" y="639">C016</tspan><tspan x="448" y="646">0.1uF</tspan><tspan x="477" y="639">C017</tspan><tspan x="482" y="646">0.1uF</tspan><tspan x="511" y="639">C018</tspan><tspan x="516" y="646">0.1uF</tspan><tspan x="545" y="639">C019</tspan><tspan x="550" y="646">0.1uF</tspan></text>

<!-- TITLE BLOCK -->
<g stroke="#222" stroke-width="0.8" fill="none">
<rect x="836" y="893" width="423" height="56"/>
<line x1="836" y1="908" x2="1118" y2="908"/><line x1="836" y1="922" x2="1118" y2="922"/><line x1="836" y1="935" x2="1259" y2="935"/>
<line x1="857" y1="893" x2="857" y2="949"/><line x1="879" y1="893" x2="879" y2="949"/><line x1="921" y1="893" x2="921" y2="949"/><line x1="956" y1="893" x2="956" y2="949"/><line x1="977" y1="893" x2="977" y2="949"/><line x1="1033" y1="893" x2="1033" y2="949" stroke-width="1.4"/><line x1="1118" y1="893" x2="1118" y2="949" stroke-width="1.4"/>
</g>
<g style="font-family:'Liberation Serif','Noto Serif CJK SC',serif;font-size:8px" fill="#222">
<text x="992" y="903">拟制</text><text x="992" y="917">审核</text>
<text x="837" y="945">标记</text><text x="858" y="945">数量</text><text x="881" y="945">更改单号</text><text x="928" y="945">签名</text><text x="958" y="945">日期</text>
<text x="1160" y="945">第</text><text x="1198" y="945">张</text>
</g>
<text x="1180" y="945" style="font-size:8px;font-weight:bold" fill="#222">4</text>
<text x="1127" y="917" style="font-size:10px;font-weight:bold" fill="#222">04.DDR3</text>

<!-- FOOTER -->
<text x="22" y="978" style="font-family:'Liberation Serif','Noto Serif CJK SC',serif;font-size:13.5px" fill="#333">PDF 文件以 "PDF 制作工厂" 试用版创建 <tspan x="297">ÿÿÿÿ@ÿ</tspan></text>
<line x1="297" y1="979" x2="466" y2="979" stroke="#3a5aa0" stroke-width="0.8"/>
</svg>
</body></html>
